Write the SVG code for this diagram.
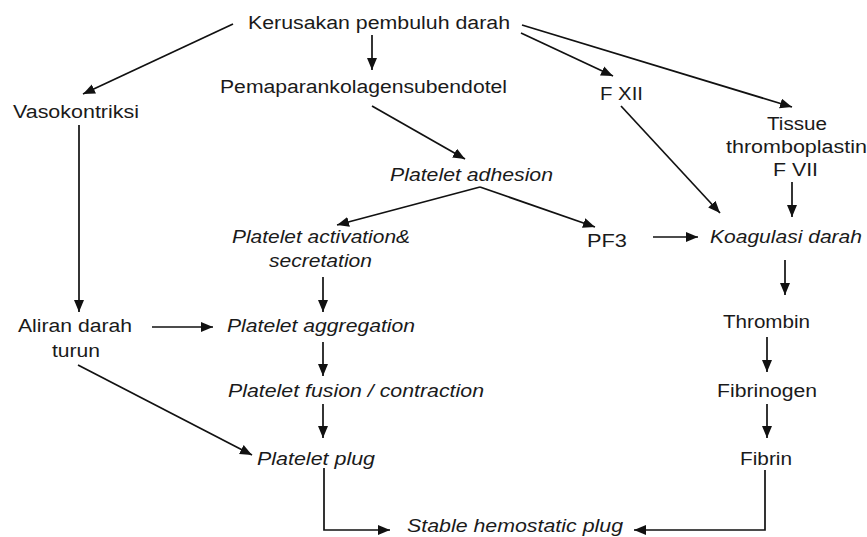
<svg xmlns="http://www.w3.org/2000/svg" width="867" height="537" viewBox="0 0 867 537">
<defs>
<marker id="ah" markerUnits="userSpaceOnUse" markerWidth="13" markerHeight="11" refX="12" refY="5" orient="auto">
<path d="M0,0 L12,5 L0,10 z" fill="#111"/>
</marker>
<style>
text{font-family:"Liberation Sans",Arial,sans-serif;font-size:18px;fill:#1a1a1a}
.i{font-style:italic}
#connectors line,#connectors polyline{stroke:#111;stroke-width:1.7;fill:none;marker-end:url(#ah)}
</style>
</defs>
<rect width="867" height="537" fill="#fff"/>
<g id="connectors">
<line x1="233" y1="24" x2="83" y2="94"/>
<line x1="372" y1="35" x2="372" y2="70"/>
<line x1="521" y1="33" x2="613" y2="76"/>
<line x1="522" y1="25" x2="792" y2="107"/>
<line x1="79" y1="125" x2="79" y2="312"/>
<line x1="372" y1="106" x2="465" y2="159"/>
<line x1="621" y1="106" x2="720" y2="213"/>
<line x1="792" y1="182" x2="792" y2="217"/>
<line x1="480" y1="187" x2="337" y2="225"/>
<line x1="480" y1="187" x2="595" y2="227"/>
<line x1="653" y1="237" x2="698" y2="237"/>
<line x1="785" y1="260" x2="785" y2="295"/>
<line x1="323" y1="277" x2="323" y2="312"/>
<line x1="152" y1="327" x2="213" y2="327"/>
<line x1="323" y1="342" x2="323" y2="376"/>
<line x1="78" y1="365" x2="252" y2="455"/>
<line x1="323" y1="404" x2="323" y2="438"/>
<line x1="767" y1="337" x2="767" y2="372"/>
<line x1="767" y1="404" x2="767" y2="438"/>
<polyline points="324,468 324,530 390,530"/>
<polyline points="765,470 765,530 634,530"/>
</g>
<g id="kerusakan"><text x="248" y="29" textLength="262" lengthAdjust="spacingAndGlyphs">Kerusakan pembuluh darah</text></g>
<g id="pemaparan"><text x="220" y="93" textLength="287" lengthAdjust="spacingAndGlyphs">Pemaparankolagensubendotel</text></g>
<g id="vasokontriksi"><text x="13" y="118" textLength="126" lengthAdjust="spacingAndGlyphs">Vasokontriksi</text></g>
<g id="fxii"><text x="600" y="100" textLength="43" lengthAdjust="spacingAndGlyphs">F XII</text></g>
<g id="tissue">
<text x="767" y="130" textLength="60" lengthAdjust="spacingAndGlyphs">Tissue</text>
<text x="726" y="153" textLength="141" lengthAdjust="spacingAndGlyphs">thromboplastin</text>
<text x="773" y="176" textLength="45" lengthAdjust="spacingAndGlyphs">F VII</text>
</g>
<g id="adhesion"><text class="i" x="390" y="181" textLength="163" lengthAdjust="spacingAndGlyphs">Platelet adhesion</text></g>
<g id="activation">
<text class="i" x="232" y="243" textLength="178" lengthAdjust="spacingAndGlyphs">Platelet activation&amp;</text>
<text class="i" x="269" y="267" textLength="103" lengthAdjust="spacingAndGlyphs">secretation</text>
</g>
<g id="pf3"><text x="587" y="247" textLength="40" lengthAdjust="spacingAndGlyphs">PF3</text></g>
<g id="koagulasi"><text class="i" x="710" y="243" textLength="152" lengthAdjust="spacingAndGlyphs">Koagulasi darah</text></g>
<g id="aliran">
<text x="18" y="332" textLength="114" lengthAdjust="spacingAndGlyphs">Aliran darah</text>
<text x="52" y="357" textLength="48" lengthAdjust="spacingAndGlyphs">turun</text>
</g>
<g id="aggregation"><text class="i" x="227" y="332" textLength="188" lengthAdjust="spacingAndGlyphs">Platelet aggregation</text></g>
<g id="thrombin"><text x="723" y="328" textLength="87" lengthAdjust="spacingAndGlyphs">Thrombin</text></g>
<g id="fusion"><text class="i" x="228" y="397" textLength="256" lengthAdjust="spacingAndGlyphs">Platelet fusion / contraction</text></g>
<g id="fibrinogen"><text x="717" y="397" textLength="100" lengthAdjust="spacingAndGlyphs">Fibrinogen</text></g>
<g id="plug"><text class="i" x="257" y="465" textLength="118" lengthAdjust="spacingAndGlyphs">Platelet plug</text></g>
<g id="fibrin"><text x="740" y="465" textLength="52" lengthAdjust="spacingAndGlyphs">Fibrin</text></g>
<g id="stable"><text class="i" x="407" y="532" textLength="216" lengthAdjust="spacingAndGlyphs">Stable hemostatic plug</text></g>
</svg>
